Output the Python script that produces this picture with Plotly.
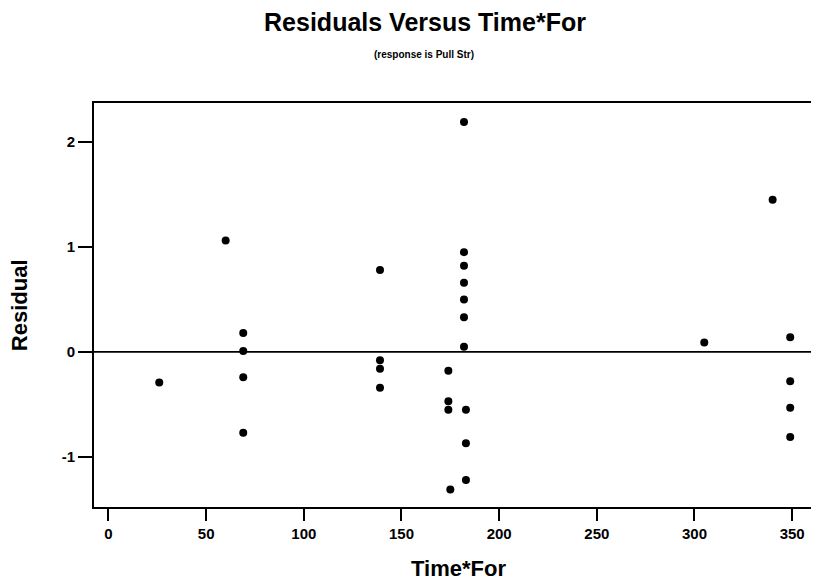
import plotly.graph_objects as go

time_for = [26, 60, 69, 69, 69, 69, 139, 139, 139, 139,
            174, 174, 174, 175, 182, 182, 182, 182, 182, 182,
            182, 183, 183, 183, 305, 340, 349, 349, 349, 349]
residual = [-0.29, 1.06, 0.18, 0.01, -0.24, -0.77, 0.78, -0.08, -0.16, -0.34,
            -0.18, -0.47, -0.55, -1.31, 2.19, 0.95, 0.82, 0.66, 0.50, 0.33,
            0.05, -0.55, -0.87, -1.22, 0.09, 1.45, 0.14, -0.28, -0.53, -0.81]
x_ticks = [0, 50, 100, 150, 200, 250, 300, 350]
y_ticks = [-1, 0, 1, 2]
y_labels = ["-1", "0", "1", "2"]

font = "Liberation Sans, Arial, sans-serif"

fig = go.Figure()
fig.add_trace(go.Scatter(x=time_for, y=residual, mode="markers",
                         marker=dict(color="black", size=8),
                         showlegend=False))

# reference line at zero
fig.add_hline(y=0, line=dict(color="black", width=1.8))

axis_common = dict(showline=True, linecolor="black", linewidth=2, mirror=True,
                   showgrid=False, zeroline=False, ticks="outside",
                   tickcolor="black", tickwidth=2,
                   tickfont=dict(family=font, size=15, color="black", weight="bold"))

fig.update_xaxes(range=[-7.4, 362.2], tickvals=x_ticks, ticklen=12, **axis_common)
fig.update_yaxes(range=[-1.476, 2.37], tickvals=y_ticks, ticktext=y_labels,
                 ticklen=14, **axis_common)

# the page adds an 8px body margin, so the figure is drawn 8px smaller
fig.update_layout(
    width=811, height=574,
    margin=dict(l=86, r=1, t=95, b=75),
    plot_bgcolor="white", paper_bgcolor="white",
    font=dict(family=font, color="black"),
    title=dict(text="<b>Residuals Versus Time*For</b>", x=417 / 811, xanchor="center",
               xref="container", y=1 - 14 / 574, yanchor="middle", yref="container",
               font=dict(family=font, size=25, color="black")),
    annotations=[
        dict(text="<b>(response is Pull Str)</b>", xref="paper", yref="paper",
             x=(425 - 94) / 724, y=(507 - 55) / 404, xanchor="center", yanchor="middle",
             showarrow=False, font=dict(family=font, size=10, color="black")),
        dict(text="<b>Time*For</b>", xref="paper", yref="paper",
             x=(460 - 94) / 724, y=(507 - 568) / 404, xanchor="center", yanchor="middle",
             showarrow=False, font=dict(family=font, size=22, color="black")),
        dict(text="<b>Residual</b>", xref="paper", yref="paper", textangle=-90,
             x=(19 - 94) / 724, y=(507 - 305) / 404, xanchor="center", yanchor="middle",
             showarrow=False, font=dict(family=font, size=22, color="black")),
    ],
)

fig.write_html("out.html")
